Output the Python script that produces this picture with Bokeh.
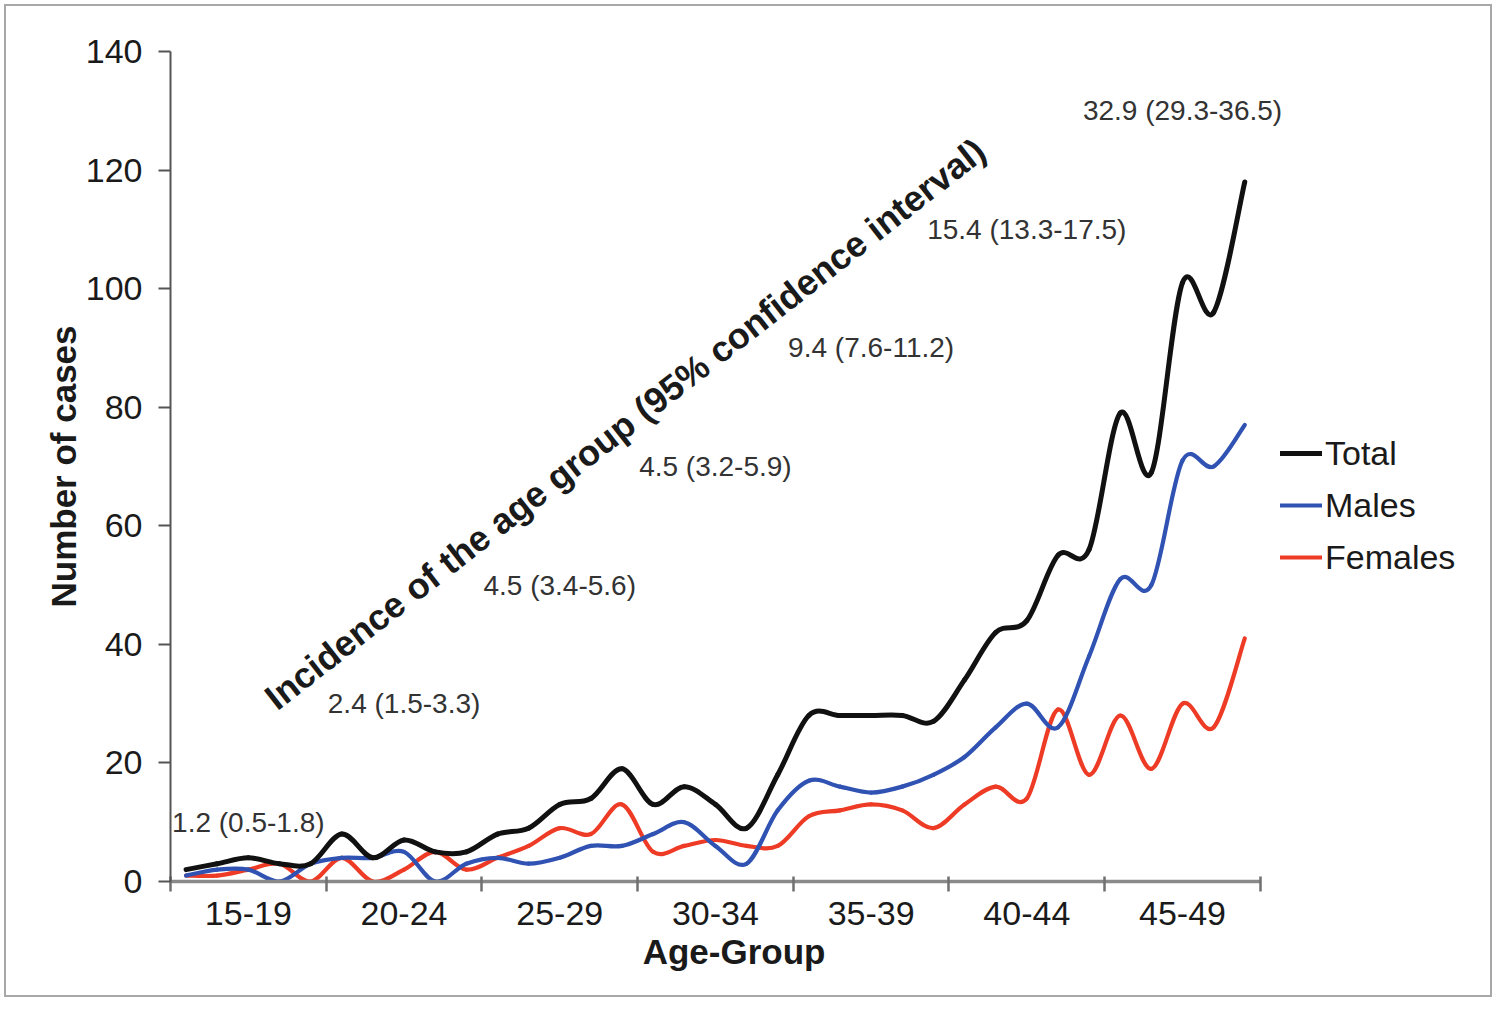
from bokeh.plotting import figure
from bokeh.models import (Range1d, FixedTicker, Legend, LegendItem, ColumnDataSource,
                          LinearAxis)
from bokeh.core.properties import value
from bokeh.embed import file_html
from bokeh.resources import INLINE

# ---------------- data ----------------
age_groups = ["15-19", "20-24", "25-29", "30-34", "35-39", "40-44", "45-49"]
ages = list(range(15, 50))  # one point per single year of age
total = [2, 3, 4, 3, 3, 8, 4, 7, 5, 5, 8, 9, 13, 14, 19, 13, 16, 13, 9, 18,
         28, 28, 28, 28, 27, 34, 42, 44, 55, 56, 79, 69, 101, 96, 118]
males = [1, 2, 2, 0, 3, 4, 4, 5, 0, 3, 4, 3, 4, 6, 6, 8, 10, 6, 3, 12,
         17, 16, 15, 16, 18, 21, 26, 30, 26, 38, 51, 50, 71, 70, 77]
females = [1, 1, 2, 3, 0, 4, 0, 2, 5, 2, 4, 6, 9, 8, 13, 5, 6, 7, 6, 6,
           11, 12, 13, 12, 9, 13, 16, 14, 29, 18, 28, 19, 30, 26, 41]
incidence = ["1.2 (0.5-1.8)", "2.4 (1.5-3.3)", "4.5 (3.4-5.6)", "4.5 (3.2-5.9)",
             "9.4 (7.6-11.2)", "15.4 (13.3-17.5)", "32.9 (29.3-36.5)"]
incidence_y = [10, 30, 50, 70, 90, 110, 130]

FONT = "Liberation Sans"
W, H = 1496, 1001

p = figure(width=W, height=H, output_backend="svg", toolbar_location=None,
           x_range=Range1d(0, 42.07), y_range=Range1d(0, 140),
           min_border_left=170, min_border_right=16, min_border_top=51,
           min_border_bottom=120)
# thin grey frame round the whole chart (painted by the host element)
p.styles = {"background-color": "white",
            "box-shadow": "inset 0 0 0 4px white, inset 0 0 0 6px #a8a8a8"}
p.border_fill_alpha = 0
p.xgrid.visible = False
p.ygrid.visible = False
p.outline_line_color = None
p.background_fill_color = "white"

# x positions: each single age sits in the middle of its slot
xs = [a - 15 + 0.5 for a in ages]


def smooth_segments(x, y):
    n = len(x)
    x0, y0, x1, y1, cx0, cy0, cx1, cy1 = [], [], [], [], [], [], [], []
    for i in range(n - 1):
        im1 = max(i - 1, 0)
        ip2 = min(i + 2, n - 1)
        x0.append(x[i]); y0.append(y[i])
        x1.append(x[i + 1]); y1.append(y[i + 1])
        cx0.append(x[i] + (x[i + 1] - x[im1]) / 6.0)
        cy0.append(y[i] + (y[i + 1] - y[im1]) / 6.0)
        cx1.append(x[i + 1] - (x[ip2] - x[i]) / 6.0)
        cy1.append(y[i + 1] - (y[ip2] - y[i]) / 6.0)
    return ColumnDataSource(dict(x0=x0, y0=y0, x1=x1, y1=y1,
                                 cx0=cx0, cy0=cy0, cx1=cx1, cy1=cy1))


series = [("Females", females, "#ee3b25", 4.2),
          ("Males", males, "#2f52b3", 4.2),
          ("Total", total, "#111111", 5.0)]
rend = {}
for name, ys, col, lw in series:
    src = smooth_segments(xs, ys)
    rend[name] = p.bezier(x0="x0", y0="y0", x1="x1", y1="y1", cx0="cx0", cy0="cy0",
                          cx1="cx1", cy1="cy1", source=src, line_color=col,
                          line_width=lw, line_cap="round")

# incidence labels at the centre of each age group
group_centers = [2.5 + 5 * k for k in range(len(age_groups))]
p.text(x=group_centers, y=incidence_y, text=incidence,
       text_font=value(FONT), text_font_size="28px", text_color="#333333",
       text_align="center", text_baseline="middle")

p.text(x=[14.6], y=[77.2], text=["Incidence of the age group (95% confidence interval)"],
       angle=38, angle_units="deg", text_font=value(FONT), text_font_size="36px",
       text_font_style="bold", text_color="#1a1a1a",
       text_align="center", text_baseline="middle")

# axes
xa = p.xaxis[0]
xa.bounds = (0, 35)
xa.ticker = FixedTicker(ticks=group_centers, minor_ticks=[5 * k for k in range(8)])
xa.major_label_overrides = {c: g for c, g in zip(group_centers, age_groups)}
xa.major_tick_line_color = None
xa.minor_tick_line_color = "#707070"
xa.minor_tick_line_width = 2.5
xa.minor_tick_in = 5
xa.minor_tick_out = 10
xa.axis_line_color = "#8a8a8a"
xa.axis_line_width = 3.5
xa.major_label_text_font = FONT
xa.major_label_text_font_size = "34px"
xa.major_label_text_color = "#1a1a1a"
xa.major_label_standoff = 10

# x-axis title, centred under the age axis (drawn as a lone tick label)
title_x = 18.1
xt = LinearAxis(ticker=FixedTicker(ticks=[title_x], minor_ticks=[]),
                major_label_overrides={title_x: "Age-Group"},
                axis_line_color=None, major_tick_line_color=None,
                major_tick_out=0, major_tick_in=0, major_label_standoff=4,
                major_label_text_font=FONT, major_label_text_font_size="35px",
                major_label_text_font_style="bold", major_label_text_color="#1a1a1a")
p.add_layout(xt, "below")

ya = p.yaxis[0]
ya.ticker = FixedTicker(ticks=[0, 20, 40, 60, 80, 100, 120, 140], minor_ticks=[])
ya.major_tick_line_color = "#555555"
ya.major_tick_line_width = 2
ya.major_tick_in = 0
ya.major_tick_out = 12
ya.axis_line_color = "#555555"
ya.axis_line_width = 2
ya.major_label_text_font = FONT
ya.major_label_text_font_size = "34px"
ya.major_label_text_color = "#1a1a1a"
ya.major_label_standoff = 16
ya.axis_label = "Number of cases"
ya.axis_label_text_font = FONT
ya.axis_label_text_font_size = "35px"
ya.axis_label_text_font_style = "bold"
ya.axis_label_text_color = "#1a1a1a"
ya.axis_label_standoff = 0

legend = Legend(items=[LegendItem(label="Total", renderers=[rend["Total"]]),
                       LegendItem(label="Males", renderers=[rend["Males"]]),
                       LegendItem(label="Females", renderers=[rend["Females"]])],
                location=(1110, 299), orientation="vertical",
                border_line_color=None, background_fill_alpha=0,
                padding=0, margin=0, spacing=2,
                glyph_width=42, glyph_height=50, label_height=50,
                label_standoff=3, label_text_font=FONT,
                label_text_font_size="34px", label_text_color="#1a1a1a")
p.add_layout(legend)

open("out.html", "w").write(file_html(p, INLINE))
